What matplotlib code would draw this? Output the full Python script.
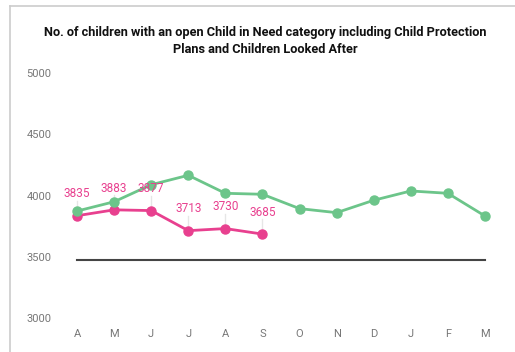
import matplotlib
matplotlib.use("Agg")
import matplotlib.pyplot as plt
from matplotlib.lines import Line2D

months = ["A", "M", "J", "J", "A", "S", "O", "N", "D", "J", "F", "M"]
green_values = [3873, 3949, 4088, 4165, 4018, 4010, 3893, 3860, 3961, 4037, 4018, 3833]
pink_values = [3835, 3883, 3877, 3713, 3730, 3685]
target_value = 3470
y_ticks = [3000, 3500, 4000, 4500, 5000]

plt.rcParams['font.family'] = ['Roboto', 'DejaVu Sans']

fig = plt.figure(figsize=(5.15, 3.52), dpi=100)
fig.patch.set_facecolor("white")
ax = fig.add_axes([0.1136, 0.0966, 0.864, 0.696])

x = list(range(len(months)))
green = "#6cc58a"
pink = "#e8408f"

ax.plot([x[0], x[-1]], [target_value, target_value], color="#444444", lw=1.5, zorder=1)
px = x[:len(pink_values)]
ax.plot(px, pink_values, color=pink, lw=2, marker="o", ms=6.5, zorder=3)
ax.plot(x, green_values, color=green, lw=2, marker="o", ms=6.5, zorder=4)

for xi, v in zip(px, pink_values):
    ax.plot([xi, xi], [v + 25, v + 120], color="#e6e6e6", lw=1, zorder=2)
    ax.text(xi, v + 125, str(v), color=pink, fontsize=8.5, ha="center", va="bottom", zorder=5)

ax.set_xlim(-0.5, 11.5)
ax.set_ylim(3000, 5000)
ax.set_xticks(x)
ax.set_xticklabels(months)
ax.set_yticks(y_ticks)
for s in ax.spines.values():
    s.set_visible(False)
ax.tick_params(axis="both", length=0, colors="#777777", labelsize=8)
ax.tick_params(axis="x", pad=8)
ax.tick_params(axis="y", pad=4)
for lbl in ax.get_yticklabels():
    lbl.set_horizontalalignment("left")
    lbl.set_x(-0.06)

fig.text(0.515, 0.883, "No. of children with an open Child in Need category including Child Protection\nPlans and Children Looked After",
         ha="center", va="center", fontsize=9.2, fontweight="bold", color="#111111", linespacing=1.35)

fig.add_artist(Line2D([10/515, 10/515], [0, 1 - 6/352], color="#cccccc", lw=1.2, transform=fig.transFigure))
fig.add_artist(Line2D([10/515, 1], [1 - 6/352, 1 - 6/352], color="#cccccc", lw=1.2, transform=fig.transFigure))

fig.savefig("out.png", dpi=100)
